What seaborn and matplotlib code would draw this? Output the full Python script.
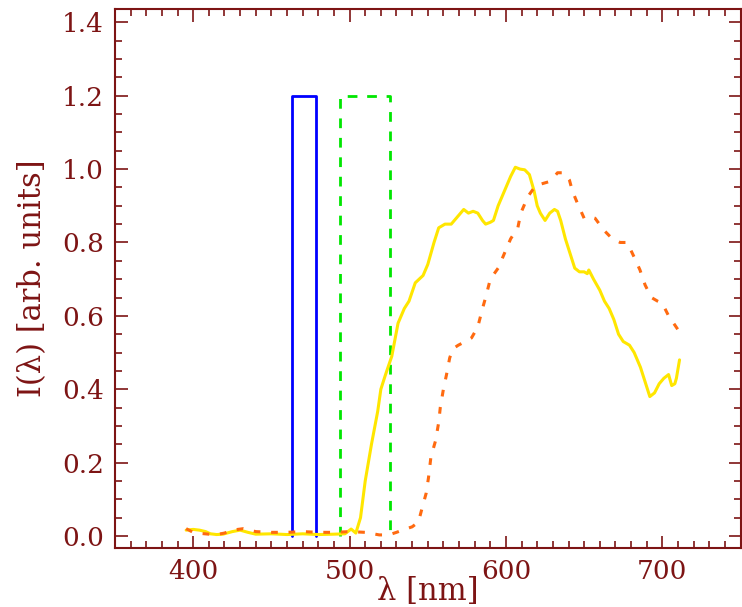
import numpy as np
import pandas as pd
import matplotlib
matplotlib.use("Agg")
import matplotlib.pyplot as plt
import seaborn as sns
from matplotlib.ticker import MultipleLocator

# ---- data ----
yellow_wl = [395.5, 400, 404, 408, 411, 415, 419, 425, 430, 435, 440, 450, 460, 470, 480, 490, 497,
             501, 504, 507, 510, 514, 518, 520, 523, 527, 531, 535, 538, 542, 547, 550, 554, 557,
             561, 565, 569, 573, 576, 579, 582, 585, 587, 590, 592, 595, 599, 603, 606, 609, 612,
             615, 618, 620, 622, 625, 628, 631, 633, 635, 638, 641, 644, 647, 650, 652, 653, 656,
             660, 663, 666, 669, 672, 675, 679, 682, 686, 689, 692, 695, 698, 701, 704, 706, 708,
             709, 711]
yellow_int = [0.016, 0.018, 0.016, 0.012, 0.006, 0.004, 0.005, 0.012, 0.016, 0.010, 0.005, 0.006,
              0.004, 0.006, 0.004, 0.005, 0.006, 0.019, 0.008, 0.05, 0.15, 0.25, 0.34, 0.40, 0.44,
              0.49, 0.58, 0.62, 0.64, 0.69, 0.71, 0.74, 0.80, 0.84, 0.85, 0.85, 0.87, 0.89, 0.88,
              0.885, 0.88, 0.86, 0.85, 0.855, 0.86, 0.90, 0.94, 0.98, 1.005, 1.0, 0.998, 0.985,
              0.94, 0.90, 0.88, 0.86, 0.88, 0.89, 0.885, 0.86, 0.81, 0.77, 0.73, 0.72, 0.72, 0.715,
              0.725, 0.70, 0.67, 0.64, 0.62, 0.59, 0.55, 0.53, 0.52, 0.50, 0.46, 0.42, 0.38, 0.39,
              0.415, 0.43, 0.44, 0.41, 0.415, 0.43, 0.48]

orange_wl = [395.5, 400, 405, 410, 415, 420, 425, 432, 440, 450, 460, 470, 480, 490, 500, 510, 519,
             525, 530, 535, 540, 544, 546, 549, 550.5, 552, 555, 557, 558, 560, 562, 564, 566,
             569.5, 574, 578, 582, 585, 587, 590, 595, 599, 603, 607.6, 609.5, 614, 619, 623, 627,
             630, 633, 637, 640.6, 642.5, 645.7, 650, 654, 657, 662.5, 668, 673, 677.5, 682, 685.7,
             689, 693, 697, 700, 704, 708, 711]
orange_int = [0.02, 0.01, 0.007, 0.005, 0.004, 0.008, 0.016, 0.02, 0.012, 0.01, 0.01, 0.012, 0.01,
              0.01, 0.012, 0.01, 0.003, 0.003, 0.01, 0.018, 0.025, 0.038, 0.07, 0.117, 0.16, 0.215,
              0.26, 0.31, 0.35, 0.40, 0.44, 0.485, 0.51, 0.52, 0.53, 0.54, 0.57, 0.62, 0.65, 0.70,
              0.73, 0.77, 0.81, 0.84, 0.88, 0.925, 0.955, 0.96, 0.965, 0.975, 0.99, 0.99, 0.97,
              0.94, 0.907, 0.866, 0.87, 0.866, 0.834, 0.81, 0.80, 0.80, 0.76, 0.725, 0.684, 0.65,
              0.64, 0.634, 0.60, 0.575, 0.556]

blue_band = [463.5, 478.5]   # band edges (nm)
green_band = [494, 526]
band_height = 1.2

x_label = "λ [nm]"
y_label = "I(λ) [arb. units]"

# ---- styling ----
sns.set_style("white")
axcol = "#7d1414"
plt.rcParams["font.family"] = ["DejaVu Serif"]

fig = plt.figure(figsize=(7.42, 6.07), dpi=100)
ax = fig.add_axes([0.155, 0.097, 0.843, 0.888])

def band_df(edges, h):
    return pd.DataFrame({"x": [edges[0], edges[0], edges[1], edges[1]],
                         "y": [0, h, h, 0]})

bd = band_df(blue_band, band_height)
sns.lineplot(data=bd, x="x", y="y", sort=False, estimator=None, color="#0000ff",
             lw=2.0, ax=ax)
gd = band_df(green_band, band_height)
sns.lineplot(data=gd, x="x", y="y", sort=False, estimator=None, color="#00e600",
             lw=2.0, ax=ax, linestyle=(0, (3.5, 3.5)))

ydf = pd.DataFrame({"x": yellow_wl, "y": yellow_int})
sns.lineplot(data=ydf, x="x", y="y", sort=False, estimator=None, color="#ffe600",
             lw=2.2, ax=ax)
odf = pd.DataFrame({"x": orange_wl, "y": orange_int})
sns.lineplot(data=odf, x="x", y="y", sort=False, estimator=None, color="#ff6a10",
             lw=2.2, ax=ax, linestyle=(0, (2.2, 3.5)))

ax.set_xlim(350, 750)
ax.set_ylim(-0.033, 1.436)
ax.xaxis.set_major_locator(MultipleLocator(100))
ax.xaxis.set_minor_locator(MultipleLocator(10))
ax.yaxis.set_major_locator(MultipleLocator(0.2))
ax.yaxis.set_minor_locator(MultipleLocator(0.05))
ax.yaxis.set_major_formatter(matplotlib.ticker.FormatStrFormatter("%.1f"))

for s in ax.spines.values():
    s.set_color(axcol)
    s.set_linewidth(1.5)
ax.tick_params(which="both", direction="in", top=True, right=True, color=axcol,
               labelcolor=axcol, width=1.2, labelsize=19, bottom=True, left=True)
ax.tick_params(which="major", length=9, pad=8)
ax.tick_params(which="minor", length=5)

ax.set_xlabel(x_label, color=axcol, fontsize=22, labelpad=-6)
ax.set_ylabel(y_label, color=axcol, fontsize=22, labelpad=10)

fig.savefig("out.png", dpi=100)
